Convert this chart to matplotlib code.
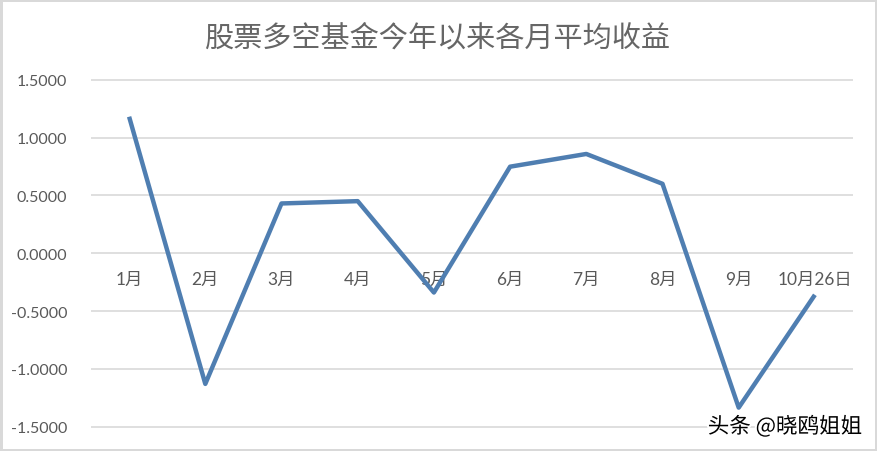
import numpy as np
from matplotlib import pyplot as plt
import matplotlib.patheffects as pe

months = ['1月', '2月', '3月', '4月', '5月', '6月', '7月', '8月', '9月', '10月26日']
avg_return = [1.18, -1.13, 0.43, 0.45, -0.34, 0.748, 0.858, 0.60, -1.335, -0.36]
y_ticks = [-1.5, -1.0, -0.5, 0.0, 0.5, 1.0, 1.5]

title = '股票多空基金今年以来各月平均收益'
mark = '头条 @晓鸥姐姐'

plt.rcParams['font.family'] = ['Lato', 'Noto Sans CJK SC', 'DejaVu Sans']
grey = '#595959'

fig = plt.figure(figsize=(8.77, 4.52), dpi=100)
fig.patch.set_edgecolor('#d9d9d9')
fig.patch.set_linewidth(2.5)
ax = fig.add_axes([91 / 877, 1 - 427.7 / 452, (853 - 91) / 877, 347 / 452])

# category axis sits on the zero line, like Excel
for s in ['top', 'right', 'left']:
    ax.spines[s].set_visible(False)
ax.spines['bottom'].set_position(('data', 0))
ax.spines['bottom'].set_visible(False)

x = np.arange(len(months))
ax.hlines(y_ticks, -0.5, len(months) - 0.5, colors='#d9d9d9', linewidth=1.2, clip_on=False, zorder=1)
ax.plot(x, avg_return, color='#4f7eb1', linewidth=3.2, solid_joinstyle='round', solid_capstyle='butt', zorder=3)

ax.set_xlim(-0.5, len(months) - 0.5)
ax.set_ylim(-1.5, 1.5)
ax.set_yticks(y_ticks)
ax.set_yticklabels(['%.4f' % v for v in y_ticks], fontsize=11.5, color=grey)
ax.set_xticks(x)
ax.set_xticklabels(months, fontsize=12.5, color=grey)

ax.tick_params(axis='both', length=0)
ax.tick_params(axis='y', pad=17)
ax.tick_params(axis='x', pad=13)
ax.patch.set_alpha(0)

fig.text(0.498, 1 - 38 / 452, title, ha='center', va='center', fontsize=21,
         color='#666666', family=['Noto Sans CJK SC'], fontweight='light')
fig.text(862 / 877, 1 - 428 / 452, mark, ha='right', va='center', fontsize=15.5,
         color='black', family=['Noto Sans CJK SC'], fontweight='medium',
         path_effects=[pe.withStroke(linewidth=3, foreground='white')], zorder=10)

fig.savefig('out.png', dpi=100)
